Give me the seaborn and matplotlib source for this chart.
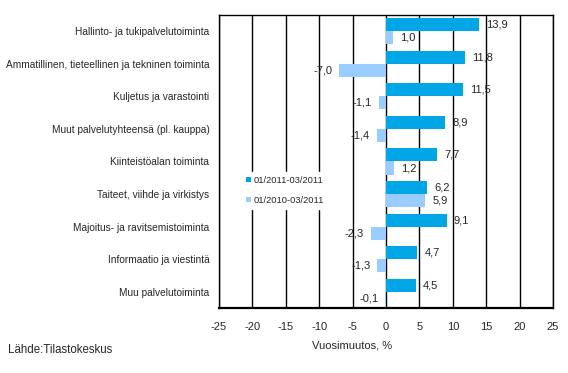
import matplotlib
matplotlib.use("Agg")
import matplotlib.pyplot as plt
import seaborn as sns
import pandas as pd

categories = [
    "Hallinto- ja tukipalvelutoiminta",
    "Ammatillinen, tieteellinen ja tekninen toiminta",
    "Kuljetus ja varastointi",
    "Muut palvelutyhteensä (pl. kauppa)",
    "Kiinteistöalan toiminta",
    "Taiteet, viihde ja virkistys",
    "Majoitus- ja ravitsemistoiminta",
    "Informaatio ja viestintä",
    "Muu palvelutoiminta",
]
series_names = ["01/2011-03/2011", "01/2010-03/2011"]
values_2011 = [13.9, 11.8, 11.5, 8.9, 7.7, 6.2, 9.1, 4.7, 4.5]
values_2010 = [1.0, -7.0, -1.1, -1.4, 1.2, 5.9, -2.3, -1.3, -0.1]
x_ticks = [-25, -20, -15, -10, -5, 0, 5, 10, 15, 20, 25]

df = pd.DataFrame({
    "Toimiala": categories * 2,
    "Jakso": [series_names[0]] * len(categories) + [series_names[1]] * len(categories),
    "Muutos": values_2011 + values_2010,
})

sns.set_style("white")
plt.rcParams["font.family"] = ["Liberation Sans", "DejaVu Sans"]

fig = plt.figure(figsize=(5.68, 3.73), dpi=100)
ax = fig.add_axes([0.3856, 0.1743, 0.588, 0.7855])

ax = sns.barplot(data=df, y="Toimiala", x="Muutos", hue="Jakso", orient="h",
                 hue_order=series_names, order=categories,
                 palette=["#00A6E6", "#99CCFF"], width=0.8, saturation=1,
                 linewidth=0, ax=ax)

ax.set_xlim(-25, 25)
ax.set_xticks(x_ticks)
ax.set_xticklabels([str(t) for t in x_ticks], fontsize=8)
ax.tick_params(axis="x", length=0, pad=10)
ax.tick_params(axis="y", length=0, pad=7, labelsize=7.3)
ax.set_ylabel("")
ax.set_xlabel("Vuosimuutos, %", fontsize=8)
ax.xaxis.set_label_coords(0.398, -0.112)

ax.set_axisbelow(True)
ax.grid(axis="x", color="black", lw=1)
ax.grid(axis="y", visible=False)
for side in ["left", "top", "right"]:
    ax.spines[side].set_color("black")
    ax.spines[side].set_linewidth(1)
ax.spines["bottom"].set_color("black")
ax.spines["bottom"].set_linewidth(1.6)

for cont, vals in zip(ax.containers, [values_2011, values_2010]):
    labels = [f"{v:.1f}".replace(".", ",") for v in vals]
    ax.bar_label(cont, labels=labels, padding=5, fontsize=8)

leg = ax.legend(loc="upper left", bbox_to_anchor=(0.057, 0.48), fontsize=6.7,
                handlelength=0.5, handleheight=0.5, handletextpad=0.3,
                labelspacing=1.2, borderpad=0.4, frameon=True, fancybox=False)
leg.get_frame().set_facecolor("white")
leg.get_frame().set_edgecolor("white")
leg.get_frame().set_alpha(1)

fig.text(8 / 568, 1 - 350 / 373, "Lähde:Tilastokeskus", fontsize=8.3, va="center")

fig.savefig("out.png", dpi=100)
